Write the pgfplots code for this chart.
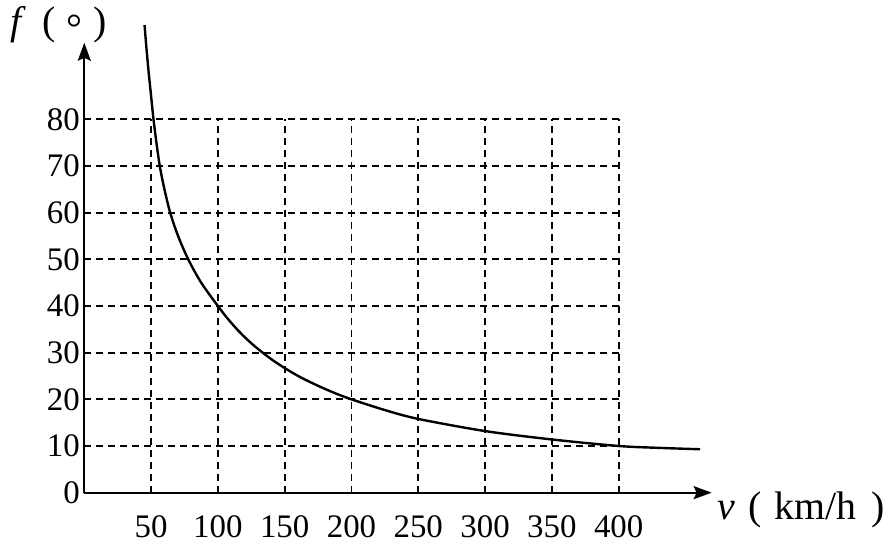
\documentclass[border=0pt]{standalone}
\usepackage{fontspec}
\setmainfont{Liberation Serif}
\usepackage{pgfplots}
\pgfplotsset{compat=1.18}
\usetikzlibrary{arrows.meta}
\begin{document}
\begin{tikzpicture}
\begin{axis}[
    x=1.336bp, y=4.667bp,
    xmin=0, xmax=400, ymin=0, ymax=80,
    axis line style={draw=none},
    clip=false,
    xtick={50,100,...,400},
    ytick={0,10,...,80},
    major tick length=0pt,
    grid=major,
    grid style={black, line width=1.8bp, dash pattern=on 7bp off 5bp},
    tick label style={font=\fontsize{33}{38}\selectfont, /pgf/number format/assume math mode=true},
    xticklabel style={yshift=-19bp},
    yticklabel style={xshift=-1bp},
]
% picture frame
\path (axis cs:-63.1,-12.71) rectangle (axis cs:606.1,105.57);

% axes with arrows
\draw[line width=2bp, -{Stealth[length=18bp,width=13bp,inset=3bp]}] (axis cs:0,0) -- (axis cs:469.6,0);
\draw[line width=2bp, -{Stealth[length=18bp,width=13bp,inset=3bp]}] (axis cs:0,0) -- (axis cs:0,96.4);

% curve
\addplot[black, line width=2.4bp, smooth] coordinates {
    (45.1, 100.2)
    (46.6, 95)
    (48.2, 90)
    (50, 85)
    (51.8, 80)
    (54, 75)
    (56.5, 70)
    (60, 65)
    (64.3, 60)
    (70.2, 55)
    (77.8, 50)
    (87.5, 45)
    (100, 40)
    (107, 37.4)
    (115, 34.8)
    (122, 32.8)
    (130, 30.8)
    (140, 28.6)
    (150, 26.7)
    (162, 24.7)
    (175, 22.9)
    (187, 21.4)
    (200, 20)
    (225, 17.7)
    (250, 15.8)
    (300, 13.2)
    (350, 11.4)
    (400, 10)
    (430, 9.6)
    (461, 9.3)
};

% axis titles
\node[anchor=base west, inner sep=0pt, font=\fontsize{40}{44}\selectfont]
    at (axis cs:-55.6,98.07) {\textit{f}\hspace{0.42em}(\hspace{0.27em}\raisebox{-0.17em}{°}\hspace{0.28em})};
\node[anchor=base west, inner sep=0pt, font=\fontsize{40}{44}\selectfont]
    at (axis cs:474.2,-5.85) {\textit{v}\hspace{0.33em}(\hspace{0.32em}km/h\hspace{0.37em})};
\end{axis}
\end{tikzpicture}
\end{document}
